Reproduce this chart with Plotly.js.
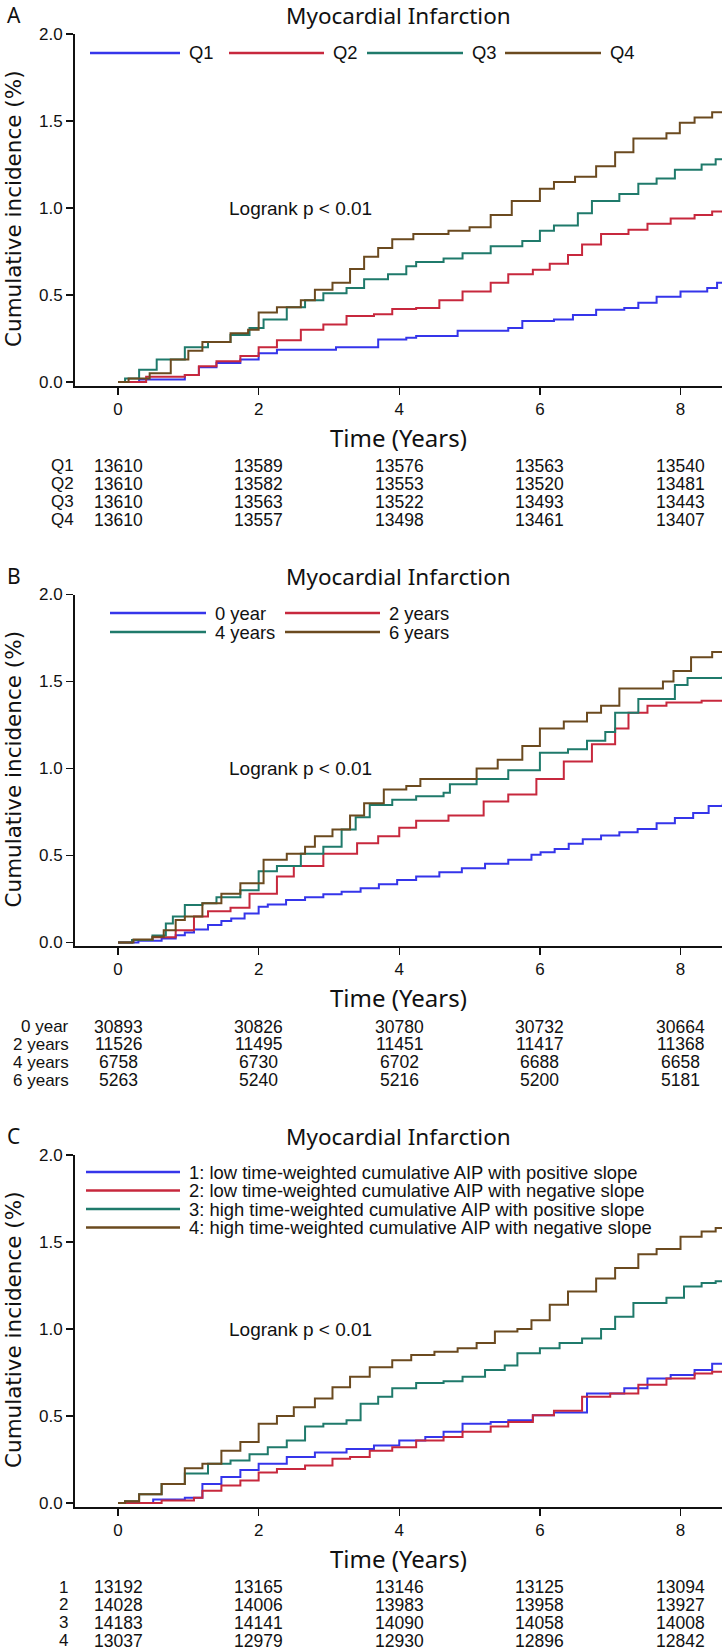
<!DOCTYPE html>
<html>
<head>
<meta charset="utf-8">
<script src="https://cdn.plot.ly/plotly-3.0.1.min.js"></script>
<style>
  html, body { margin: 0; padding: 0; background: #fff; }
  #chart { width: 722px; height: 1651px; }
</style>
</head>
<body>
<div id="chart"></div>
<script>
// ---- data ----
const riskTimes = [0, 2, 4, 6, 8];
const xTicks = [0, 2, 4, 6, 8];
const yTicks = [0, 0.5, 1.0, 1.5, 2.0];
const yTickText = ["0.0", "0.5", "1.0", "1.5", "2.0"];

// Panel A: AIP quartiles
const aNames = ["Q1", "Q2", "Q3", "Q4"];
const aQ1t = [0, 0.3, 0.95, 1.15, 1.4, 1.74, 2.0, 2.26, 3.1, 3.7, 4.1, 4.24, 4.83, 5.55, 5.75, 6.2, 6.47, 6.8, 7.2, 7.4, 7.66, 8.0, 8.38, 8.52, 8.6];
const aQ1y = [0, 0.015, 0.04, 0.085, 0.11, 0.13, 0.165, 0.185, 0.2, 0.245, 0.255, 0.265, 0.295, 0.31, 0.35, 0.36, 0.385, 0.415, 0.425, 0.455, 0.49, 0.52, 0.54, 0.57, 0.57];
const aQ2t = [0, 0.4, 0.95, 1.15, 1.4, 1.74, 2.0, 2.26, 2.6, 2.92, 3.25, 3.64, 3.9, 4.24, 4.57, 4.9, 5.3, 5.55, 5.9, 6.14, 6.4, 6.6, 6.87, 7.26, 7.53, 7.86, 8.2, 8.45, 8.6];
const aQ2y = [0, 0.03, 0.04, 0.09, 0.12, 0.15, 0.2, 0.24, 0.3, 0.33, 0.38, 0.39, 0.42, 0.425, 0.47, 0.52, 0.57, 0.62, 0.645, 0.68, 0.73, 0.79, 0.85, 0.875, 0.91, 0.94, 0.96, 0.98, 0.98];
const aQ3t = [0, 0.1, 0.3, 0.55, 0.95, 1.28, 1.6, 1.87, 2.07, 2.4, 2.66, 2.92, 3.25, 3.5, 3.84, 4.1, 4.24, 4.63, 4.9, 5.3, 5.75, 6.0, 6.2, 6.54, 6.74, 7.13, 7.4, 7.66, 7.92, 8.3, 8.5, 8.6];
const aQ3y = [0, 0.02, 0.07, 0.13, 0.2, 0.23, 0.27, 0.31, 0.36, 0.43, 0.47, 0.51, 0.54, 0.59, 0.62, 0.665, 0.69, 0.71, 0.74, 0.78, 0.81, 0.87, 0.9, 0.97, 1.04, 1.08, 1.14, 1.17, 1.22, 1.25, 1.28, 1.28];
const aQ4t = [0, 0.15, 0.45, 0.75, 1.0, 1.2, 1.6, 1.85, 2.0, 2.26, 2.6, 2.8, 3.05, 3.3, 3.5, 3.7, 3.9, 4.2, 4.7, 5.0, 5.3, 5.6, 6.0, 6.2, 6.5, 6.8, 7.07, 7.33, 7.8, 7.99, 8.2, 8.45, 8.6];
const aQ4y = [0, 0.02, 0.05, 0.13, 0.18, 0.23, 0.28, 0.3, 0.4, 0.43, 0.47, 0.53, 0.57, 0.65, 0.72, 0.77, 0.82, 0.85, 0.87, 0.89, 0.96, 1.04, 1.11, 1.15, 1.18, 1.24, 1.32, 1.4, 1.43, 1.49, 1.52, 1.55, 1.55];
const aRisk = [
  [13610, 13589, 13576, 13563, 13540],
  [13610, 13582, 13553, 13520, 13481],
  [13610, 13563, 13522, 13493, 13443],
  [13610, 13557, 13498, 13461, 13407]
];

// Panel B: duration groups
const bNames = ["0 year", "2 years", "4 years", "6 years"];
const b0t = [0, 0.29, 0.62, 0.82, 0.95, 1.08, 1.28, 1.47, 1.61, 1.8, 2.0, 2.13, 2.39, 2.66, 2.92, 3.18, 3.45, 3.71, 3.97, 4.24, 4.57, 4.89, 5.22, 5.55, 5.88, 6.01, 6.21, 6.41, 6.61, 6.87, 7.13, 7.39, 7.66, 7.92, 8.18, 8.4, 8.6];
const b0y = [0, 0.01, 0.023, 0.042, 0.058, 0.075, 0.1, 0.123, 0.138, 0.167, 0.206, 0.219, 0.244, 0.26, 0.277, 0.292, 0.312, 0.335, 0.36, 0.379, 0.404, 0.427, 0.452, 0.475, 0.504, 0.519, 0.537, 0.567, 0.594, 0.615, 0.633, 0.652, 0.686, 0.715, 0.744, 0.785, 0.798];
const b2t = [0, 0.2, 0.49, 0.82, 1.08, 1.28, 1.6, 1.87, 2.26, 2.5, 2.92, 3.4, 3.7, 4.0, 4.24, 4.7, 5.2, 5.55, 5.95, 6.34, 6.74, 7.07, 7.26, 7.53, 7.8, 8.3, 8.6];
const b2y = [0, 0.015, 0.03, 0.07, 0.15, 0.18, 0.2, 0.28, 0.38, 0.44, 0.51, 0.57, 0.61, 0.66, 0.7, 0.73, 0.81, 0.85, 0.94, 1.04, 1.14, 1.23, 1.32, 1.36, 1.38, 1.39, 1.39];
const b4t = [0, 0.2, 0.49, 0.68, 0.78, 0.95, 1.2, 1.4, 1.74, 2.0, 2.26, 2.6, 2.92, 3.18, 3.38, 3.58, 3.9, 4.24, 4.63, 4.72, 5.1, 5.55, 6.0, 6.4, 6.67, 6.93, 7.07, 7.4, 7.92, 8.1, 8.6];
const b4y = [0, 0.015, 0.04, 0.11, 0.15, 0.215, 0.225, 0.26, 0.3, 0.41, 0.44, 0.51, 0.55, 0.65, 0.72, 0.79, 0.82, 0.84, 0.86, 0.91, 0.94, 0.99, 1.09, 1.11, 1.16, 1.21, 1.32, 1.4, 1.48, 1.52, 1.53];
const b6t = [0, 0.22, 0.49, 0.65, 0.82, 0.95, 1.2, 1.47, 1.74, 2.07, 2.4, 2.66, 2.8, 3.05, 3.3, 3.5, 3.78, 4.1, 4.3, 5.1, 5.4, 5.75, 6.0, 6.34, 6.67, 6.87, 7.13, 7.75, 7.9, 8.15, 8.45, 8.6];
const b6y = [0, 0.017, 0.033, 0.07, 0.13, 0.15, 0.225, 0.28, 0.34, 0.475, 0.51, 0.55, 0.61, 0.65, 0.73, 0.8, 0.88, 0.9, 0.94, 1.0, 1.05, 1.13, 1.23, 1.27, 1.32, 1.36, 1.46, 1.5, 1.56, 1.64, 1.67, 1.67];
const bRisk = [
  [30893, 30826, 30780, 30732, 30664],
  [11526, 11495, 11451, 11417, 11368],
  [6758, 6730, 6702, 6688, 6658],
  [5263, 5240, 5216, 5200, 5181]
];

// Panel C: cumulative AIP x slope
const cNames = [
  "1: low time-weighted cumulative AIP with positive slope",
  "2: low time-weighted cumulative AIP with negative slope",
  "3: high time-weighted cumulative AIP with positive slope",
  "4: high time-weighted cumulative AIP with negative slope"
];
const cRowLabels = ["1", "2", "3", "4"];
const c1t = [0, 0.5, 0.95, 1.2, 1.47, 1.74, 2.0, 2.4, 2.8, 3.25, 3.64, 4.0, 4.37, 4.63, 4.9, 5.3, 5.55, 5.9, 6.2, 6.67, 7.2, 7.53, 7.86, 8.2, 8.45, 8.6];
const c1y = [0, 0.02, 0.03, 0.11, 0.15, 0.19, 0.225, 0.265, 0.29, 0.31, 0.33, 0.36, 0.38, 0.41, 0.455, 0.465, 0.475, 0.505, 0.52, 0.63, 0.66, 0.715, 0.735, 0.765, 0.8, 0.8];
const c2t = [0, 0.62, 1.08, 1.2, 1.47, 1.74, 2.0, 2.26, 2.66, 3.05, 3.3, 3.58, 3.9, 4.24, 4.63, 4.9, 5.3, 5.55, 5.9, 6.2, 6.6, 7.0, 7.4, 7.8, 8.2, 8.45, 8.6];
const c2y = [0, 0.015, 0.03, 0.07, 0.1, 0.13, 0.175, 0.195, 0.215, 0.255, 0.265, 0.3, 0.32, 0.36, 0.38, 0.41, 0.44, 0.465, 0.505, 0.53, 0.61, 0.63, 0.68, 0.715, 0.745, 0.755, 0.755];
const c3t = [0, 0.1, 0.3, 0.62, 0.95, 1.28, 1.6, 1.87, 2.13, 2.4, 2.66, 2.92, 3.25, 3.45, 3.7, 3.9, 4.24, 4.63, 4.9, 5.22, 5.5, 5.68, 6.0, 6.28, 6.6, 6.87, 7.07, 7.33, 7.8, 8.05, 8.3, 8.5, 8.6];
const c3y = [0, 0.01, 0.05, 0.11, 0.17, 0.225, 0.245, 0.28, 0.32, 0.36, 0.44, 0.455, 0.475, 0.57, 0.61, 0.66, 0.69, 0.7, 0.725, 0.765, 0.79, 0.86, 0.89, 0.92, 0.945, 1.0, 1.07, 1.15, 1.18, 1.245, 1.265, 1.275, 1.275];
const c4t = [0, 0.1, 0.3, 0.62, 0.95, 1.2, 1.47, 1.74, 2.0, 2.26, 2.5, 2.8, 3.05, 3.3, 3.58, 3.9, 4.17, 4.5, 4.83, 5.1, 5.36, 5.68, 5.88, 6.14, 6.4, 6.8, 7.07, 7.4, 7.66, 8.0, 8.3, 8.5, 8.6];
const c4y = [0, 0.01, 0.05, 0.11, 0.2, 0.225, 0.3, 0.35, 0.455, 0.5, 0.55, 0.6, 0.665, 0.725, 0.78, 0.82, 0.85, 0.87, 0.89, 0.92, 0.985, 1.0, 1.05, 1.14, 1.215, 1.29, 1.35, 1.43, 1.46, 1.53, 1.56, 1.58, 1.58];
const cRisk = [
  [13192, 13165, 13146, 13125, 13094],
  [14028, 14006, 13983, 13958, 13927],
  [14183, 14141, 14090, 14058, 14008],
  [13037, 12979, 12930, 12896, 12842]
];

const colors = ["#3535ea", "#c7283d", "#1f7a6b", "#6b4a1f"];

// ---- page geometry (pixels) ----
const W = 722, H = 1651, L = 75;
const fx = p => (p - L) / (W - L);
const fy = p => 1 - p / H;
const offsets = [0, 560.5, 1121];

const sans = "Liberation Sans, Arial, sans-serif";
const narrow = "Liberation Sans Narrow, Arial Narrow, Liberation Sans, sans-serif";
const head = "Noto Sans, Open Sans, sans-serif";
const wide = "DejaVu Sans, Verdana, sans-serif";

const panels = [
  {
    letter: "A", names: aNames, rowLabels: aNames, risk: aRisk, labelRight: 76,
    series: [[aQ1t, aQ1y], [aQ2t, aQ2y], [aQ3t, aQ3y], [aQ4t, aQ4y]],
    legend: { rows: [53, 53, 53, 53], x0: [90, 229, 367, 505], x1: [180, 324, 463, 601] }
  },
  {
    letter: "B", names: bNames, rowLabels: bNames, risk: bRisk, labelRight: 71,
    series: [[b0t, b0y], [b2t, b2y], [b4t, b4y], [b6t, b6y]],
    legend: { rows: [52.5, 52.5, 71.5, 71.5], x0: [110, 285, 110, 285], x1: [206, 380, 206, 380] }
  },
  {
    letter: "C", names: cNames, rowLabels: cRowLabels, risk: cRisk, labelRight: 70,
    series: [[c1t, c1y], [c2t, c2y], [c3t, c3y], [c4t, c4y]],
    legend: { rows: [51, 69.5, 88, 106.5], x0: [86, 86, 86, 86], x1: [180, 180, 180, 180] }
  }
];

const traces = [];
const annotations = [];
const shapes = [];
const layout = {
  width: W, height: H,
  margin: { l: L, r: 0, t: 0, b: 0 },
  paper_bgcolor: "white", plot_bgcolor: "white",
  showlegend: false,
  font: { family: sans, color: "#111" }
};

panels.forEach((p, k) => {
  const off = offsets[k];
  const sfx = k === 0 ? "" : String(k + 1);
  const xa = "x" + sfx, ya = "y" + sfx;

  layout["xaxis" + sfx] = {
    domain: [0, 1], anchor: ya, range: [-0.612, 8.59],
    tickvals: xTicks, ticks: "outside", ticklen: 7, tickwidth: 1.5, tickcolor: "#111",
    showline: true, linewidth: 2, linecolor: "#111", showgrid: false, zeroline: false,
    tickfont: { family: sans, size: 17, color: "#111" }, fixedrange: true
  };
  layout["yaxis" + sfx] = {
    domain: [fy(385.5 + off), fy(34 + off)], anchor: xa, range: [-0.02, 2.0],
    tickvals: yTicks, ticktext: yTickText, ticks: "outside", ticklen: 7, tickwidth: 1.5, tickcolor: "#111",
    showline: true, linewidth: 2, linecolor: "#111", showgrid: false, zeroline: false,
    tickfont: { family: sans, size: 17, color: "#111" }, fixedrange: true
  };

  p.series.forEach((s, i) => {
    traces.push({
      x: s[0], y: s[1], xaxis: xa, yaxis: ya,
      type: "scatter", mode: "lines", name: p.names[i],
      line: { color: colors[i], width: 2, shape: "hv" },
      hoverinfo: "skip"
    });
  });

  // panel letter, title, axis titles
  annotations.push({ text: p.letter, xref: "paper", yref: "paper", x: fx(5), y: fy(15 + off),
    xanchor: "left", yanchor: "middle", showarrow: false, font: { family: head, size: 21, color: "#111" } });
  annotations.push({ text: "Myocardial Infarction", xref: "paper", yref: "paper", x: fx(398), y: fy(15.5 + off),
    xanchor: "center", yanchor: "middle", showarrow: false, font: { family: head, size: 22.5, color: "#111" } });
  annotations.push({ text: "Cumulative incidence (%)", xref: "paper", yref: "paper", x: fx(13), y: fy(209 + off),
    xanchor: "center", yanchor: "middle", textangle: -90, showarrow: false, font: { family: wide, size: 21.5, color: "#111" } });
  annotations.push({ text: "Time (Years)", xref: "paper", yref: "paper", x: fx(398), y: fy(437 + off),
    xanchor: "center", yanchor: "middle", showarrow: false, font: { family: head, size: 24, color: "#111" } });
  annotations.push({ text: "Logrank p < 0.01", xref: xa, yref: ya, x: 2.59, y: 1.0,
    xanchor: "center", yanchor: "middle", showarrow: false, font: { family: sans, size: 19, color: "#111" } });

  // legend drawn by hand (long line samples)
  p.names.forEach((nm, i) => {
    const ry = p.legend.rows[i] + off;
    shapes.push({ type: "line", xref: "paper", yref: "paper",
      x0: fx(p.legend.x0[i]), x1: fx(p.legend.x1[i]), y0: fy(ry), y1: fy(ry),
      line: { color: colors[i], width: 2.5 } });
    annotations.push({ text: nm, xref: "paper", yref: "paper", x: fx(p.legend.x1[i] + 7), y: fy(ry),
      xanchor: "left", yanchor: "middle", showarrow: false, font: { family: sans, size: 18.4, color: "#111" } });
  });

  // number at risk table
  p.risk.forEach((row, i) => {
    const ry = 466 + i * 17.9 + off;
    annotations.push({ text: p.rowLabels[i], xref: "paper", yref: "paper", x: fx(p.labelRight), y: fy(ry),
      xanchor: "right", yanchor: "middle", showarrow: false, font: { family: sans, size: 17, color: "#111" } });
    row.forEach((v, j) => {
      annotations.push({ text: String(v), xref: xa, yref: "paper", x: riskTimes[j], y: fy(ry),
        xanchor: "center", yanchor: "middle", showarrow: false, font: { family: narrow, size: 17.5, color: "#111" } });
    });
  });
});

layout.annotations = annotations;
layout.shapes = shapes;

Plotly.newPlot("chart", traces, layout, { staticPlot: true, displayModeBar: false });
</script>
</body>
</html>
